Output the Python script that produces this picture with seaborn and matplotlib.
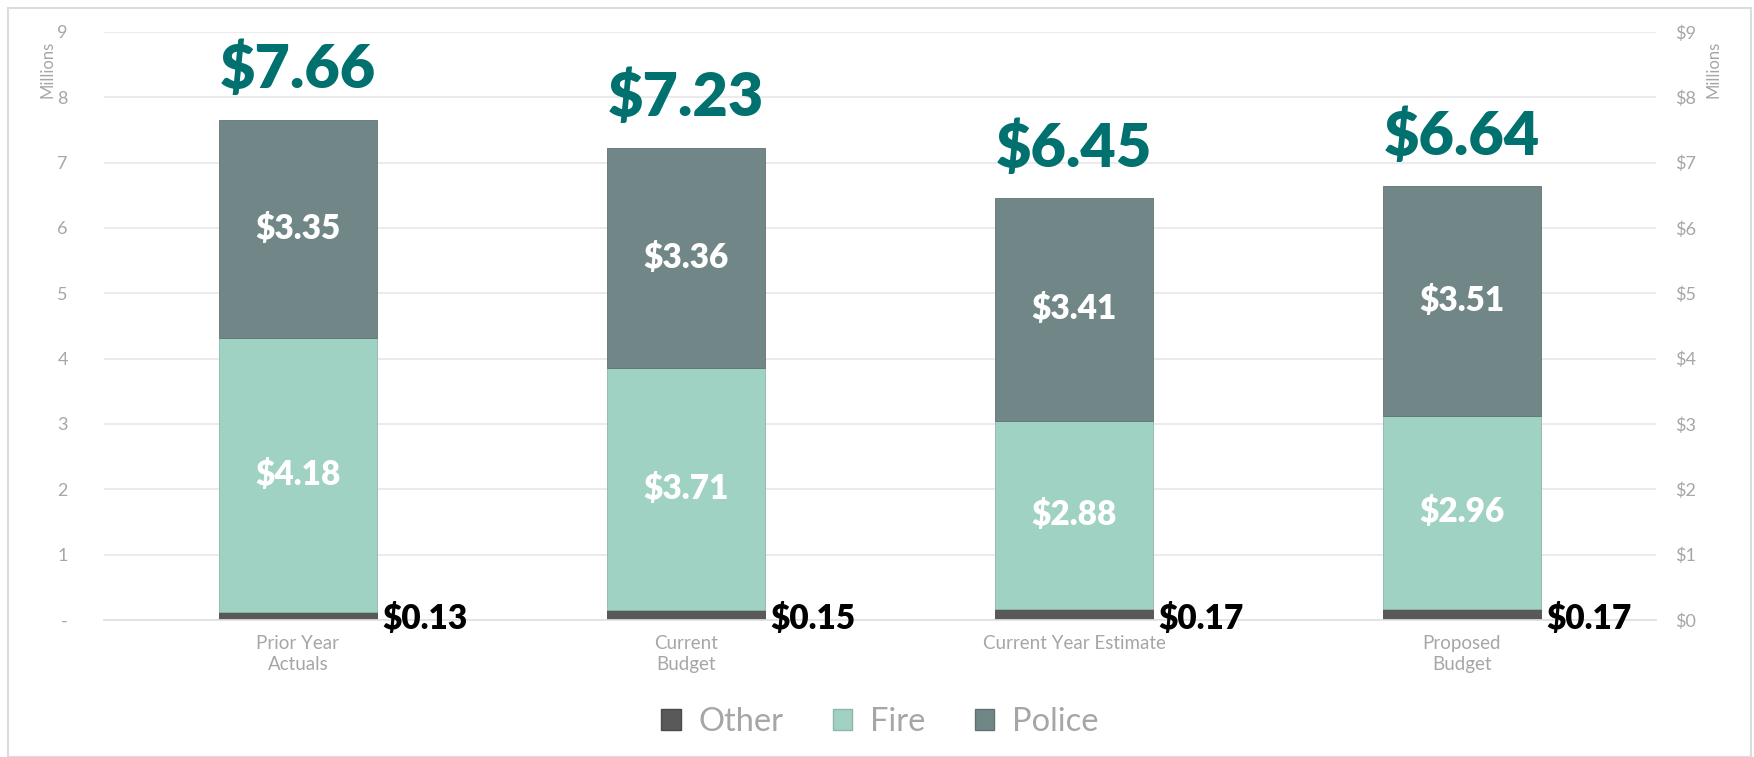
import matplotlib
matplotlib.use("Agg")
import matplotlib.pyplot as plt
from matplotlib.patches import Rectangle, Patch
import seaborn as sns
import pandas as pd
import numpy as np

categories = ["Prior Year\nActuals", "Current\nBudget", "Current Year Estimate", "Proposed\nBudget"]
other = [0.13, 0.15, 0.17, 0.17]
fire = [4.18, 3.71, 2.88, 2.96]
police = [3.35, 3.36, 3.41, 3.51]
totals = [7.66, 7.23, 6.45, 6.64]
left_ticks = ["-", "1", "2", "3", "4", "5", "6", "7", "8", "9"]
right_ticks = ["$0", "$1", "$2", "$3", "$4", "$5", "$6", "$7", "$8", "$9"]

c_other = "#595959"
c_fire = "#9fd2c2"
c_police = "#718787"
c_total = "#00716e"
c_gray = "#a6a6a6"

sns.set_theme(style="white")
plt.rcParams["font.family"] = ["Lato", "DejaVu Sans"]

df = pd.DataFrame({"cat": categories, "Other": other, "Fire": fire, "Police": police})
df["fire_bottom"] = df["Other"]
df["police_bottom"] = df["Other"] + df["Fire"]

fig = plt.figure(figsize=(17.54, 7.57), dpi=100)
ax = fig.add_axes([104/1754, 1-620/757, (1656-104)/1754, (620-32)/757])

w = 0.405
sns.barplot(data=df, x="cat", y="Other", color=c_other, width=w, ax=ax, saturation=1,
            edgecolor="#4a4a4a", linewidth=0.6)
sns.barplot(data=df, x="cat", y="Fire", bottom=df["fire_bottom"], color=c_fire, width=w, ax=ax,
            saturation=1, edgecolor="#8fb5aa", linewidth=0.6)
sns.barplot(data=df, x="cat", y="Police", bottom=df["police_bottom"], color=c_police, width=w, ax=ax,
            saturation=1, edgecolor="#5f7272", linewidth=0.6)

ax.set_xlim(-0.5, 3.5)
ax.set_ylim(0, 9)
ax.set_yticks(range(10))
ax.set_yticklabels(left_ticks, color=c_gray, fontsize=13)
ax.yaxis.grid(True, color="#e8e8e8", linewidth=1.2)
ax.set_axisbelow(True)
for s in ax.spines.values():
    s.set_visible(False)
ax.spines["bottom"].set_visible(True)
ax.spines["bottom"].set_color("#e0e0e0")
ax.set_xlabel("")
ax.set_ylabel("")
ax.set_xticks(range(4))
ax.set_xticklabels(categories, color=c_gray, fontsize=13.5, linespacing=1.25)
ax.tick_params(axis="x", length=0, pad=11)
ax.tick_params(axis="y", length=0, pad=26)

ax2 = ax.twinx()
ax2.set_ylim(0, 9)
ax2.set_yticks(range(10))
ax2.set_yticklabels(right_ticks, color=c_gray, fontsize=13)
ax2.tick_params(axis="y", length=0, pad=14)
for s in ax2.spines.values():
    s.set_visible(False)

for i in range(4):
    ax.text(i, other[i] + fire[i] / 2, f"${fire[i]:.2f}", ha="center", va="center",
            color="white", fontsize=24, fontweight="heavy")
    ax.text(i, other[i] + fire[i] + police[i] / 2, f"${police[i]:.2f}", ha="center", va="center",
            color="white", fontsize=24, fontweight="heavy")
    ax.text(i + w / 2 + 0.015, 0.02, f"${other[i]:.2f}", ha="left", va="center",
            color="black", fontsize=24, fontweight="heavy")
    ax.text(i, totals[i] + 0.76, f"${totals[i]:.2f}", ha="center", va="center",
            color=c_total, fontsize=44, fontweight="heavy")

fig.text(48/1754, 1-69/757, "Millions", rotation=90, ha="center", va="center", color=c_gray, fontsize=12)
fig.text(1713/1754, 1-69/757, "Millions", rotation=90, ha="center", va="center", color=c_gray, fontsize=12)

handles = [Patch(facecolor=c_other, edgecolor="#4a4a4a"), Patch(facecolor=c_fire, edgecolor="#8fb5aa"),
           Patch(facecolor=c_police, edgecolor="#5f7272")]
leg = fig.legend(handles, ["Other", "Fire", "Police"], loc="center", bbox_to_anchor=(880/1754, 1-722/757),
                 ncol=3, frameon=False, fontsize=23.5, handlelength=0.6, handleheight=0.6,
                 columnspacing=1.5, handletextpad=0.55)
for t in leg.get_texts():
    t.set_color(c_gray)

fig.patches.append(Rectangle((8/1754, 0), (1751-8)/1754, 1-8/757, transform=fig.transFigure,
                             fill=False, edgecolor="#dcdcdc", linewidth=1.5))

fig.savefig("out.png", dpi=100, facecolor="white")
